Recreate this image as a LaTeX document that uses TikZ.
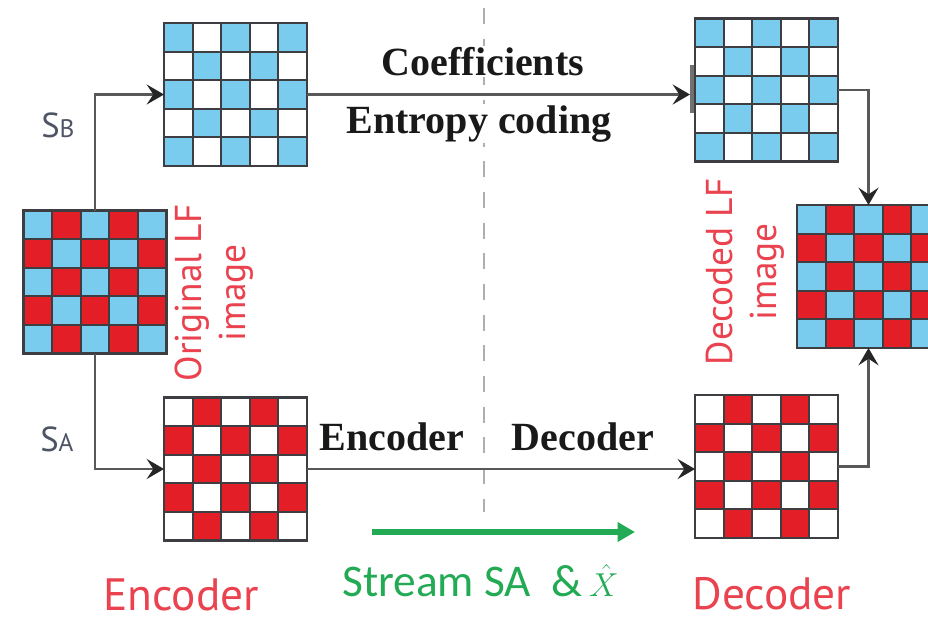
\documentclass[tikz,border=0pt]{standalone}
\usepackage{fontspec}
\setmainfont{Liberation Serif}
\newfontfamily\labelfont{PT Sans}
\newfontfamily\streamfont{Carlito}
\usetikzlibrary{arrows.meta,calc}

\definecolor{cellblue}{RGB}{122,204,238}
\definecolor{cellred}{RGB}{228,30,38}
\definecolor{gridstroke}{RGB}{62,62,66}
\definecolor{linkgray}{RGB}{88,88,88}
\definecolor{titlered}{RGB}{234,66,78}
\definecolor{subgray}{RGB}{78,84,100}
\definecolor{streamgreen}{RGB}{34,170,84}
\definecolor{dividergray}{RGB}{175,175,175}

% 5x5 checkerboard filling the node #1: colour #2 where row+column is even, #3 where odd
\newcommand{\lfcells}[3]{%
  \foreach \ci in {0,...,4}{%
    \foreach \cj in {0,...,4}{%
      \pgfmathtruncatemacro{\cpar}{mod(\ci+\cj,2)}%
      \ifnum\cpar=0 \def\cellcol{#2}\else\def\cellcol{#3}\fi
      \fill[\cellcol] ($(#1.north west)+(\ci*28.6,\cj*28.6)$) rectangle +(28.6,28.6);
    }%
  }%
  \foreach \ck in {1,...,4}{%
    \draw[gridline] ($(#1.north west)+(\ck*28.6,0)$) -- ++(0,143);
    \draw[gridline] ($(#1.north west)+(0,\ck*28.6)$) -- ++(143,0);
  }%
  \draw[gridline] (#1.north west) rectangle (#1.south east);
}

\begin{document}
\begin{tikzpicture}[x=0.75pt,y=-0.75pt,
  gridbox/.style={minimum width=107.25pt,minimum height=107.25pt,inner sep=0pt,outer sep=0pt},
  gridline/.style={draw=gridstroke,line width=1.6pt},
  link/.style={draw=linkgray,line width=2pt,
    -{Stealth[length=13pt,width=15pt,inset=5pt,color=black!85]}},
  barmark/.style={fill=linkgray!85,minimum width=3pt,minimum height=36pt,inner sep=0pt,outer sep=0pt},
  divider/.style={draw=dividergray,line width=1.5pt,dash pattern=on 12pt off 11pt},
  boldlabel/.style={font=\bfseries\fontsize{30}{34}\selectfont,text=black!90,inner sep=1pt},
  redlabel/.style={font=\labelfont\fontsize{34}{38}\selectfont,text=titlered,inner sep=0pt},
  sidelabel/.style={font=\labelfont\fontsize{28}{33}\selectfont,text=titlered,
    align=center,rotate=90,inner sep=0pt},
  subsetlabel/.style={font=\labelfont\fontsize{26}{26}\selectfont,text=subgray,inner sep=0pt},
  streamarrow/.style={draw=streamgreen,line width=4pt,
    -{Triangle[length=13pt,width=14pt]}},
]
\fill[white] (0,0) rectangle (928,618);
\useasboundingbox (0,0) rectangle (928,618);

% encoder/decoder split
\coordinate (dtop) at (484,8);
\coordinate (dbot) at (484,512);
\draw[divider] (dtop) -- (dbot);

% light-field sub-images
\node[gridbox] (orig) at (95,282) {};
\node[gridbox] (sb) at (235.5,94.5) {};
\node[gridbox] (sa) at (235.5,469) {};
\node[gridbox] (tr) at (766.5,90) {};
\node[gridbox] (br) at (766.5,466.5) {};
\node[gridbox] (dec) at (868.5,276.5) {};

\lfcells{orig}{cellblue}{cellred}
\lfcells{sb}{cellblue}{white}
\lfcells{sa}{white}{cellred}
\lfcells{tr}{cellblue}{white}
\lfcells{br}{white}{cellred}
\lfcells{dec}{cellblue}{cellred}

\node[barmark] (bar) at (692,89) {};

% data flow
\draw[link] (orig.north) |- (sb.west);
\draw[link] (orig.south) |- (sa.west);
\draw[link] (sb.east) -- (sb.east -| bar.west);
\draw[link] (sa.east) -- (sa.east -| br.west);
\draw[link] (tr.east) -| (dec.north);
\draw[link] (br.east) -| (dec.south);

% labels
\node[boldlabel,fill=white,anchor=base] (coef) at (483,75) {Coefficients};
\node[boldlabel,fill=white,anchor=base] (entropy) at (479,133) {Entropy coding};
\node[boldlabel,anchor=base] (enclbl) at (392,450) {Encoder};
\node[boldlabel,anchor=base] (declbl) at (583,450) {Decoder};

\node[subsetlabel,anchor=base west] (sblbl) at (41,137) {S{\fontsize{19}{19}\selectfont B}};
\node[subsetlabel,anchor=base west] (salbl) at (40,451) {S{\fontsize{19}{19}\selectfont A}};

\node[sidelabel] (origlbl) at (214,293) {Original LF\\image};
\node[sidelabel] (declf) at (745,272) {Decoded LF\\image};

\node[redlabel,anchor=base] (encoder) at (181,610) {Encoder};
\node[redlabel,anchor=base] (decoder) at (772,609) {Decoder};

\coordinate (gs) at (372,532);
\coordinate (ge) at (635,532);
\draw[streamarrow] (gs) -- (ge);
\node[anchor=base west,inner sep=0pt,text=streamgreen,
  font=\streamfont\fontsize{34}{38}\selectfont] (stream) at (342,596)
  {Stream SA\hspace{0.45em}\&\hspace{0.15em}{\fontsize{32}{36}\selectfont$\hat{X}$}};
\end{tikzpicture}
\end{document}
